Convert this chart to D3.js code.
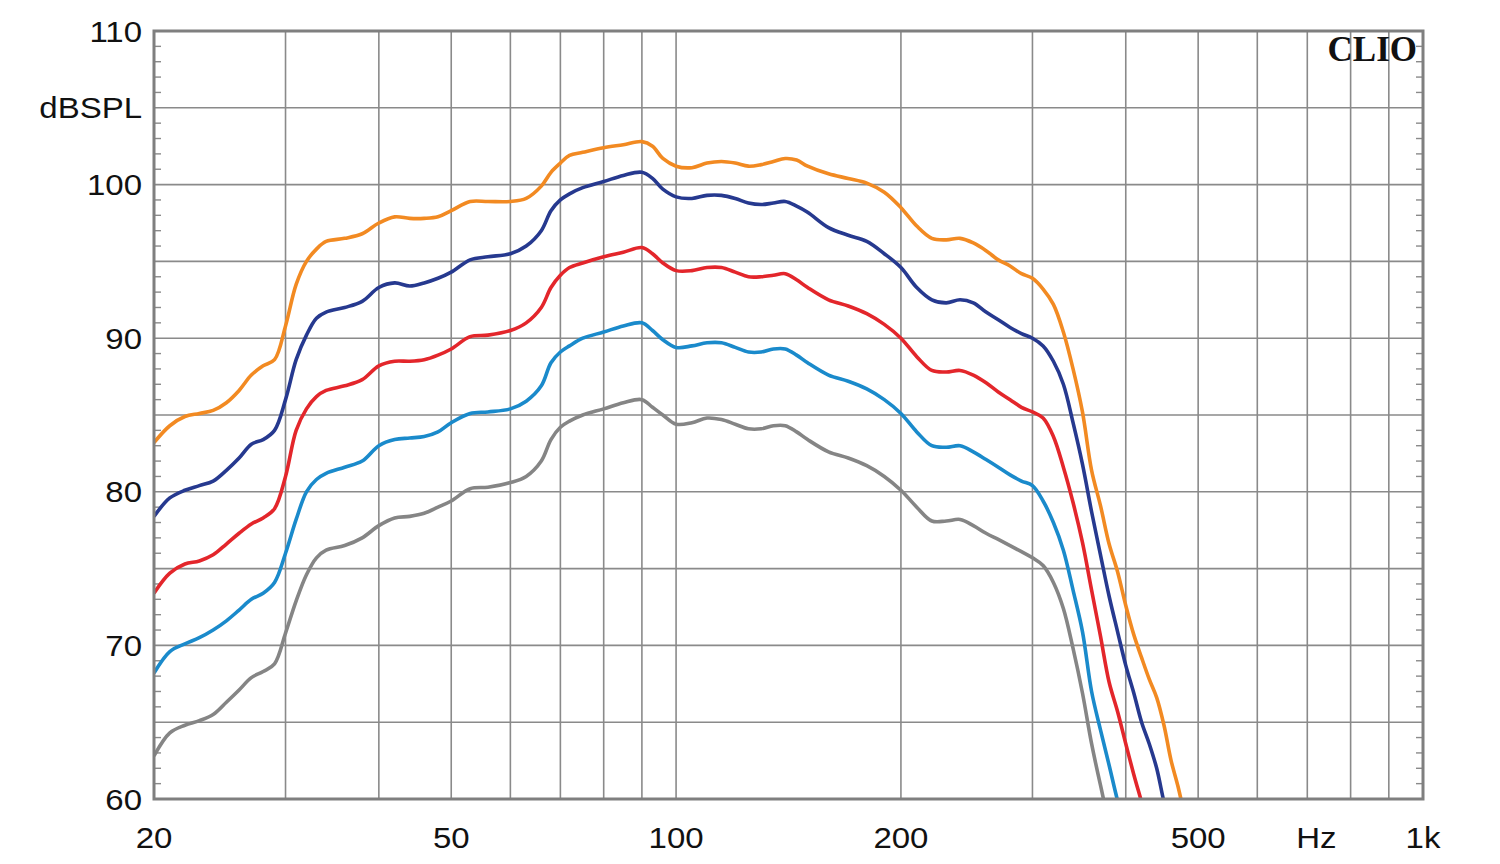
<!DOCTYPE html>
<html>
<head>
<meta charset="utf-8">
<script src="https://cdn.jsdelivr.net/npm/d3@7"></script>
<style>
  html, body { margin: 0; padding: 0; background: #fff; }
  svg { display: block; }
</style>
</head>
<body>
<svg id="chart" width="1500" height="864"></svg>
<script>
// ---------- DATA ----------
const freqs = [20, 21, 22, 23, 24, 25, 26, 27, 28, 29, 30, 31, 32, 33, 34, 36, 38, 40, 42, 44, 46, 48, 50, 53, 56, 60, 63, 66, 68, 70, 72, 75, 80, 85, 90, 93, 96, 100, 105, 110, 115, 120, 125, 130, 135, 140, 145, 150, 160, 170, 180, 190, 200, 210, 220, 230, 240, 250, 260, 270, 280, 290, 300, 310, 320, 330, 340, 350, 360, 370, 380, 390, 400, 410, 420, 430, 440, 450, 460, 470, 480];

const orangeSPL = [83.2, 84.3, 84.9, 85.1, 85.3, 85.8, 86.6, 87.6, 88.2, 88.6, 90.8, 93.5, 95.0, 95.8, 96.3, 96.5, 96.8, 97.5, 97.9, 97.8, 97.8, 97.9, 98.3, 98.9, 98.9, 98.9, 99.1, 99.9, 100.8, 101.4, 101.9, 102.1, 102.4, 102.6, 102.8, 102.5, 101.7, 101.2, 101.1, 101.4, 101.5, 101.4, 101.2, 101.3, 101.5, 101.7, 101.6, 101.2, 100.7, 100.4, 100.1, 99.5, 98.5, 97.3, 96.5, 96.4, 96.5, 96.2, 95.7, 95.1, 94.7, 94.2, 93.9, 93.2, 92.2, 90.4, 88.0, 85.2, 81.4, 79.1, 76.6, 74.8, 72.6, 70.7, 69.2, 67.8, 66.6, 64.8, 62.5, 60.8, 58.8];

const navySPL = [78.4, 79.6, 80.1, 80.4, 80.7, 81.4, 82.2, 83.1, 83.4, 84.0, 86.0, 88.6, 90.2, 91.3, 91.7, 92.0, 92.4, 93.3, 93.6, 93.4, 93.6, 93.9, 94.3, 95.1, 95.3, 95.5, 96.0, 97.0, 98.3, 99.0, 99.4, 99.8, 100.2, 100.6, 100.8, 100.4, 99.7, 99.2, 99.1, 99.3, 99.3, 99.1, 98.8, 98.7, 98.8, 98.9, 98.6, 98.2, 97.2, 96.7, 96.3, 95.5, 94.6, 93.3, 92.5, 92.3, 92.5, 92.3, 91.7, 91.2, 90.7, 90.3, 90.0, 89.5, 88.5, 87.0, 84.5, 81.8, 78.7, 75.9, 73.2, 70.9, 68.7, 66.9, 65.0, 63.6, 62.0, 59.8, 58.0, 57.0, 56.0];

const redSPL = [73.4, 74.7, 75.3, 75.5, 75.9, 76.6, 77.3, 77.9, 78.3, 78.9, 81.0, 84.0, 85.4, 86.2, 86.6, 86.9, 87.3, 88.2, 88.5, 88.5, 88.6, 88.9, 89.3, 90.1, 90.2, 90.5, 91.0, 92.0, 93.3, 94.1, 94.6, 94.9, 95.3, 95.6, 95.9, 95.5, 94.9, 94.4, 94.4, 94.6, 94.6, 94.3, 94.0, 94.0, 94.1, 94.2, 93.8, 93.3, 92.5, 92.1, 91.6, 90.9, 90.0, 88.8, 87.9, 87.8, 87.9, 87.6, 87.1, 86.5, 86.0, 85.5, 85.2, 84.8, 83.6, 81.6, 79.3, 76.7, 73.6, 70.6, 67.6, 65.7, 63.6, 61.6, 59.8, 58.0, 57.0, 56.0, 55.0, 54.0, 53.0];

const lightBlueSPL = [68.2, 69.6, 70.1, 70.5, 71.0, 71.6, 72.3, 73.0, 73.4, 74.1, 76.0, 78.2, 80.0, 80.8, 81.2, 81.6, 82.0, 83.0, 83.4, 83.5, 83.6, 83.9, 84.5, 85.1, 85.2, 85.4, 85.9, 86.9, 88.4, 89.1, 89.5, 90.0, 90.4, 90.8, 91.0, 90.5, 89.9, 89.4, 89.5, 89.7, 89.7, 89.4, 89.1, 89.1, 89.3, 89.3, 88.9, 88.4, 87.6, 87.2, 86.7, 86.0, 85.1, 83.9, 83.0, 82.9, 83.0, 82.6, 82.1, 81.6, 81.1, 80.7, 80.4, 79.4, 78.0, 76.2, 73.6, 70.9, 67.0, 64.5, 62.2, 59.9, 58.0, 57.0, 56.0, 55.0, 54.0, 53.0, 52.0, 51.0, 50.0];

const graySPL = [62.8, 64.3, 64.8, 65.1, 65.5, 66.3, 67.1, 67.9, 68.3, 68.8, 70.8, 72.9, 74.6, 75.7, 76.2, 76.5, 77.0, 77.8, 78.3, 78.4, 78.6, 79.0, 79.4, 80.2, 80.3, 80.6, 81.0, 82.0, 83.4, 84.2, 84.6, 85.0, 85.4, 85.8, 86.0, 85.5, 85.0, 84.4, 84.5, 84.8, 84.7, 84.4, 84.1, 84.1, 84.3, 84.3, 83.9, 83.4, 82.6, 82.2, 81.7, 81.0, 80.1, 79.0, 78.1, 78.1, 78.2, 77.8, 77.3, 76.9, 76.5, 76.1, 75.7, 75.2, 74.1, 72.4, 69.8, 66.9, 63.6, 60.9, 58.5, 57.0, 56.0, 55.0, 54.0, 53.0, 52.0, 51.0, 50.0, 49.0, 48.0];

const seriesNames = ["gray", "lightBlue", "red", "navy", "orange"];
const seriesValues = [graySPL, lightBlueSPL, redSPL, navySPL, orangeSPL];
const seriesColors = ["#858585", "#1a8acb", "#e3262b", "#26398f", "#f28a22"];

const yTickValues = [60, 70, 80, 90, 100, 110];
const yUnitLabel = "dBSPL";
const yUnitPos = 105;
const xGridValues = [30, 40, 50, 60, 70, 80, 90, 100, 200, 300, 400, 500, 600, 700, 800, 900];
const xLabelValues = [20, 50, 100, 200, 500, 720, 1000];
const xLabelTexts = ["20", "50", "100", "200", "500", "Hz", "1k"];
const brandText = "CLIO";

// ---------- LAYOUT ----------
(function draw() {
const pL = 154, pR = 1423, pT = 31, pB = 799;
const svg = d3.select("#chart");
const x = d3.scaleLog().domain([20, 1000]).range([pL, pR]);
const y = d3.scaleLinear().domain([60, 110]).range([pB, pT]);

const gridColor = "#8a8a8a";

const hGrid = d3.range(65, 110, 5);
svg.append("g").selectAll("line").data(hGrid).join("line")
  .attr("x1", pL).attr("x2", pR)
  .attr("y1", d => y(d)).attr("y2", d => y(d))
  .attr("stroke", gridColor).attr("stroke-width", 1.6);

svg.append("g").selectAll("line").data(xGridValues).join("line")
  .attr("x1", d => x(d)).attr("x2", d => x(d))
  .attr("y1", pT).attr("y2", pB)
  .attr("stroke", gridColor).attr("stroke-width", 1.6);

const minor = d3.range(61, 110).filter(v => v % 5 !== 0);
svg.append("g").selectAll("line").data(minor).join("line")
  .attr("x1", pL).attr("x2", pL + 7)
  .attr("y1", d => y(d)).attr("y2", d => y(d))
  .attr("stroke", gridColor).attr("stroke-width", 1.4);
svg.append("g").selectAll("line").data(minor).join("line")
  .attr("x1", pR - 7).attr("x2", pR)
  .attr("y1", d => y(d)).attr("y2", d => y(d))
  .attr("stroke", gridColor).attr("stroke-width", 1.4);

svg.append("defs").append("clipPath").attr("id", "clip")
  .append("rect").attr("x", pL).attr("y", pT)
  .attr("width", pR - pL).attr("height", pB - pT);

const line = d3.line()
  .x((d, i) => x(freqs[i]))
  .y(d => y(d))
  .curve(d3.curveCatmullRom.alpha(0.5));

svg.append("g").attr("clip-path", "url(#clip)")
  .selectAll("path").data(seriesValues).join("path")
  .attr("d", d => line(d))
  .attr("fill", "none")
  .attr("stroke", (d, i) => seriesColors[i])
  .attr("stroke-width", 3.6)
  .attr("stroke-linejoin", "round");

svg.append("rect")
  .attr("x", pL).attr("y", pT)
  .attr("width", pR - pL).attr("height", pB - pT)
  .attr("fill", "none").attr("stroke", "#7f7f7f").attr("stroke-width", 3);

const fontFam = "'Liberation Sans', Arial, sans-serif";
const yLabels = yTickValues.map(v => ({ t: String(v), v }));
yLabels.push({ t: yUnitLabel, v: yUnitPos });
svg.append("g").selectAll("text").data(yLabels).join("text")
  .attr("transform", d => `translate(142,${y(d.v) + 10.5}) scale(1.1,1)`)
  .attr("text-anchor", "end")
  .attr("font-family", fontFam).attr("font-size", 30)
  .attr("fill", "#111")
  .text(d => d.t);

svg.append("g").selectAll("text").data(xLabelValues).join("text")
  .attr("transform", d => `translate(${x(d)},848) scale(1.1,1)`)
  .attr("text-anchor", "middle")
  .attr("font-family", fontFam).attr("font-size", 30)
  .attr("fill", "#111")
  .text((d, i) => xLabelTexts[i]);

svg.append("text")
  .attr("x", 1417).attr("y", 61)
  .attr("text-anchor", "end")
  .attr("font-family", "'Liberation Serif', 'DejaVu Serif', serif")
  .attr("font-weight", "bold").attr("font-size", 35)
  .attr("fill", "#111")
  .text(brandText);
})();
</script>
</body>
</html>
